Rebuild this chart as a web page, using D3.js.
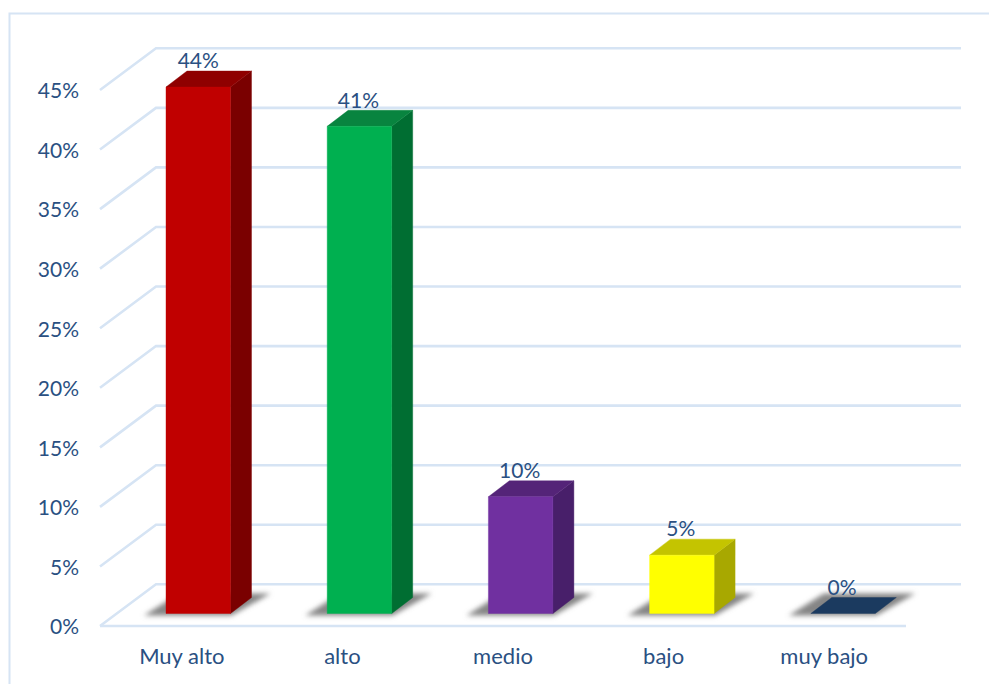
<!DOCTYPE html>
<html><head><meta charset="utf-8">
<script src="https://cdn.jsdelivr.net/npm/d3@7/dist/d3.min.js"></script>
<style>html,body{margin:0;padding:0;background:#fff;overflow:hidden}svg{display:block}
text{font-family:Lato,"Open Sans",sans-serif;font-size:21px;fill:#2a5082}</style>
</head><body><svg id="c" width="989" height="684"></svg>
<script>
const categories = ["Muy alto","alto","medio","bajo","muy bajo"];
const values = [44.2,40.9,9.8,4.9,0];
const valueLabels = ["44%","41%","10%","5%","0%"];
const yTicks = [0,5,10,15,20,25,30,35,40,45];
const frontColors = ["#c00000","#00b050","#7030a0","#ffff00","#1b3a5f"];
const topColors = ["#8f0000","#08843f","#542478","#c4c400","#1b3a5f"];
const sideColors = ["#7a0000","#006e32","#481f6a","#a8a800","#1b3a5f"];

const svg = d3.select("#c");
const grid = "#d6e4f4";
const y = d3.scaleLinear().domain([0,45]).range([626,90]);
const x = d3.scaleBand().domain(categories).range([100,906]);
const xLabels = d3.scaleBand().domain(categories).range([101.5,904.5]);
const wallDx = 56, wallDy = -41.7, barOffset = 66, barW = 64.5, floorLift = -12.5, dx = 21, dy = -16;

const blur = svg.append("defs").append("filter").attr("id","b")
  .attr("x","-30%").attr("y","-60%").attr("width","160%").attr("height","220%");
blur.append("feGaussianBlur").attr("stdDeviation",2.8);

// frame
svg.append("path").attr("d","M9.5,684V13.5H989").attr("fill","none").attr("stroke",grid).attr("stroke-width",2);

// gridlines on wall + side wall
const g = svg.append("g").attr("fill","none").attr("stroke",grid).attr("stroke-width",2.6);
yTicks.forEach(t=>{
  g.append("path").attr("d",`M${100},${y(t)}L${100+wallDx},${y(t)+wallDy}H961`);
});
g.append("path").attr("d",`M100,${y(0)}H906`);

// axes (text only)
const axL = svg.append("g").attr("transform","translate(79,0.5)")
  .call(d3.axisLeft(y).tickValues(yTicks).tickFormat(d=>d+"%").tickSize(0).tickPadding(0));
axL.select(".domain").remove();
axL.selectAll("text").attr("dy","0.35em").style("font-size","21px");
const axB = svg.append("g").attr("transform","translate(0,656.5)")
  .call(d3.axisBottom(xLabels).tickSize(0).tickPadding(0));
axB.select(".domain").remove();
axB.selectAll("text").attr("dy","0.35em").style("font-size","22px");
svg.selectAll(".tick text").style("font-family",'Lato,"Open Sans",sans-serif').style("fill","#2a5082");

// bars
const bars = svg.append("g").selectAll("g").data(categories).join("g");
bars.each(function(c,i){
  const s = d3.select(this);
  const x0 = x(c)+barOffset, x1 = x0+barW;
  const base = y(0)+floorLift, top = y(values[i])+floorLift;
  const pts = a=>a.map(p=>p.join(",")).join(" ");
  s.append("polygon").attr("filter","url(#b)").attr("fill","#858585")
    .attr("points",pts([[x0-22,base+2],[x1+1,base+2],[x1+40,base-20],[x0+13,base-20]]));
  const add=(p,f)=>s.append("polygon").attr("points",pts(p)).attr("fill",f)
     .attr("stroke",f).attr("stroke-opacity",0.4).attr("stroke-width",1);
  if(values[i]>0){
    add([[x1,base],[x1+dx,base+dy],[x1+dx,top+dy],[x1,top]],sideColors[i]);
    add([[x0,top],[x1,top],[x1+dx,top+dy],[x0+dx,top+dy]],topColors[i]);
    add([[x0,top],[x1,top],[x1,base],[x0,base]],frontColors[i]);
  } else {
    add([[x0,base],[x1,base],[x1+dx,base+dy],[x0+dx,base+dy]],frontColors[i]);
  }
  s.append("text").attr("x",x0+barW/2-(i===0?0:1)).attr("y",top-26).attr("dy","0.35em")
    .attr("text-anchor","middle").text(valueLabels[i]);
});
</script></body></html>
